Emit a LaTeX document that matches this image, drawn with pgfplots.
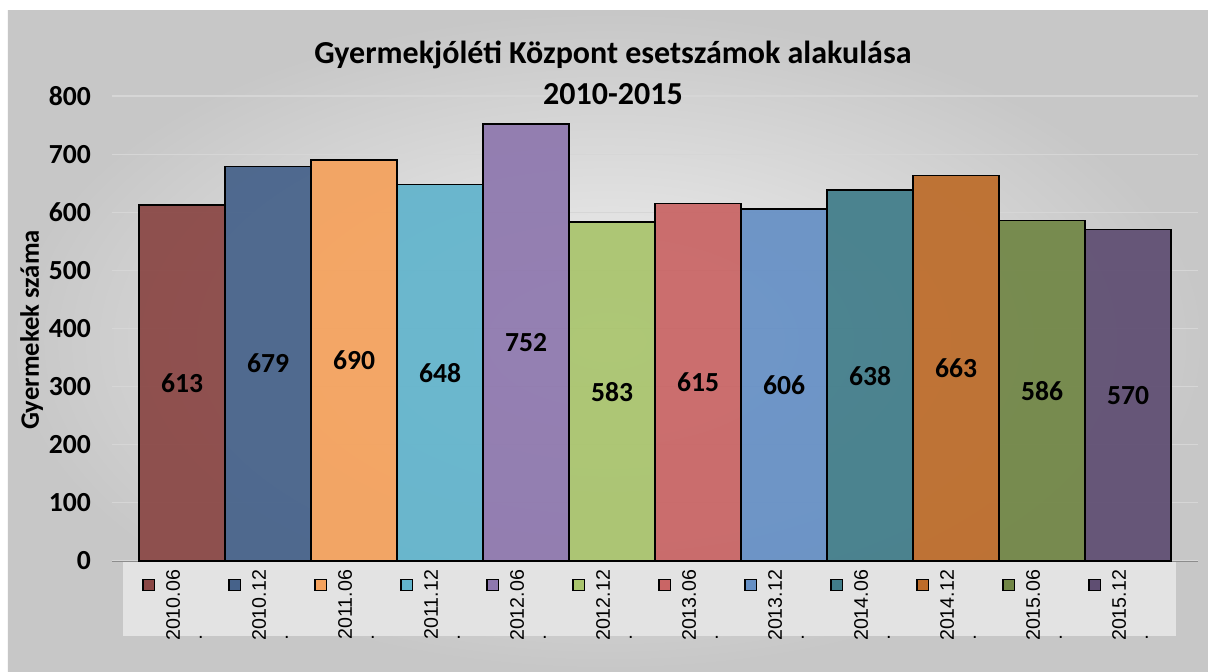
\documentclass[border=0pt]{standalone}
\usepackage{pgfplots}
\pgfplotsset{compat=1.18}
\usepackage{pgfplotstable}
\usepackage{graphicx}
\usepackage{fontspec}
\setmainfont{Carlito}
\newfontfamily\arial{Liberation Sans}
\definecolor{c1}{HTML}{8A4745}
\definecolor{c2}{HTML}{46628A}
\definecolor{c3}{HTML}{F5A25D}
\definecolor{c4}{HTML}{62B4CC}
\definecolor{c5}{HTML}{8E78AE}
\definecolor{c6}{HTML}{A9C46D}
\definecolor{c7}{HTML}{C96565}
\definecolor{c8}{HTML}{6690C5}
\definecolor{c9}{HTML}{417D8A}
\definecolor{c10}{HTML}{BD6C2A}
\definecolor{c11}{HTML}{718646}
\definecolor{c12}{HTML}{5F4E72}
\setlength{\fboxsep}{0pt}
\setlength{\fboxrule}{0.7pt}
\newcommand{\lab}[2]{\raisebox{-10pt}{\fcolorbox{black}{#1}{\rule{0pt}{5pt}\rule{5pt}{0pt}}}\hspace{5.5pt}\raisebox{-\height}{\rotatebox{90}{\arial\fontsize{9.8}{10}\selectfont #2}}\hspace{9pt}\raisebox{-34.5pt}{\arial\fontsize{9.8}{10}\selectfont .}}
\pgfplotstableread{
x v
0 613
1 679
2 690
3 648
4 752
5 583
6 615
7 606
8 638
9 663
10 586
11 570
}\datatable
\begin{document}
\begin{tikzpicture}
\fill[white] (-56pt,-55pt) rectangle (548pt,280.5pt);
\shade[inner color=black!5, outer color=black!22] (-52pt,-55pt) rectangle (548pt,275pt);
\fill[black!11] (5.5pt,-0.5pt) rectangle (532pt,-37.5pt);
\begin{axis}[
  at={(0pt,0pt)}, anchor=south west,
  scale only axis, width=543pt, height=232.5pt,
  xmin=-0.814, xmax=11.814, ymin=0, ymax=800,
  ytick={0,100,...,800},
  xtick={0,...,11},
  xticklabels={\lab{c1}{2010.06},\lab{c2}{2010.12},\lab{c3}{2011.06},\lab{c4}{2011.12},\lab{c5}{2012.06},\lab{c6}{2012.12},\lab{c7}{2013.06},\lab{c8}{2013.12},\lab{c9}{2014.06},\lab{c10}{2014.12},\lab{c11}{2015.06},\lab{c12}{2015.12}},
  xticklabel style={anchor=north, inner sep=0pt, xshift=-4.5pt},
  yticklabel style={font=\bfseries\fontsize{13.8}{15}\selectfont, xshift=-7pt},
  /pgf/number format/assume math mode=true,
  tick style={draw=none},
  axis x line*=bottom, axis y line*=left,
  x axis line style={draw=black!45, -},
  y axis line style={draw=none},
  ymajorgrids, grid style={black!16, line width=0.6pt},
  ylabel={Gyermekek száma},
  ylabel style={at={(axis description cs:-0.074,0.497)}, anchor=center, font=\bfseries\fontsize{13.3}{15}\selectfont},
  ybar, bar width=1, bar shift=0pt,
  every axis plot/.append style={draw=black, line width=0.8pt, fill opacity=0.93},
  clip=false,
]
\addplot[fill=c1] coordinates {(0,613)};
\addplot[fill=c2] coordinates {(1,679)};
\addplot[fill=c3] coordinates {(2,690)};
\addplot[fill=c4] coordinates {(3,648)};
\addplot[fill=c5] coordinates {(4,752)};
\addplot[fill=c6] coordinates {(5,583)};
\addplot[fill=c7] coordinates {(6,615)};
\addplot[fill=c8] coordinates {(7,606)};
\addplot[fill=c9] coordinates {(8,638)};
\addplot[fill=c10] coordinates {(9,663)};
\addplot[fill=c11] coordinates {(10,586)};
\addplot[fill=c12] coordinates {(11,570)};
\addplot[draw=none, fill=none, nodes near coords, point meta=explicit symbolic,
  every node near coord/.append style={anchor=center, font=\bfseries\fontsize{13.8}{15}\selectfont, text opacity=1}]
  table[x=x, y expr=\thisrow{v}/2, meta=v] {\datatable};
\end{axis}
\node[font=\bfseries\fontsize{16}{20.5}\selectfont, align=center] at (250.5pt,244.3pt) {Gyermekjóléti Központ esetszámok alakulása\\2010-2015};
\end{tikzpicture}
\end{document}
